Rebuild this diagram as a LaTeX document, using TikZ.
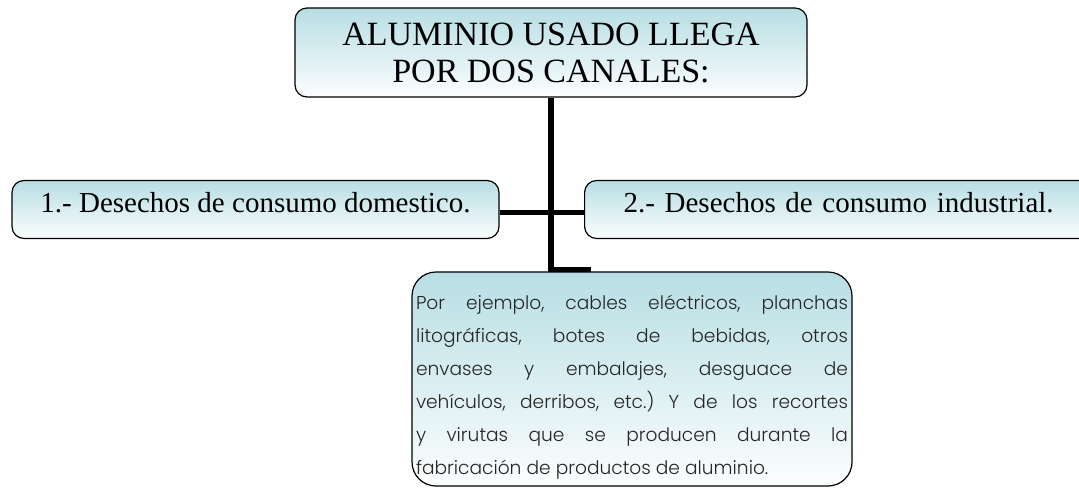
\documentclass[tikz,border=0pt]{standalone}
\usepackage{fontspec}
\setmainfont{Liberation Serif}
\newfontfamily\gothicfont{Poppins}[UprightFont=* Light]
\usetikzlibrary{backgrounds}
\usetikzlibrary{positioning}
\definecolor{boxTeal}{RGB}{183,222,228}
\tikzset{mybox/.style={draw, line width=1.2pt, rounded corners=12pt, top color=boxTeal, bottom color=white!96!boxTeal, inner sep=0pt}}
\tikzset{myboxTitle/.style={mybox, minimum width=512pt, minimum height=89pt, align=center, font=\fontsize{34}{37}\selectfont}}
\tikzset{myboxCanal/.style={mybox, minimum height=58pt, text height=20pt, text depth=13pt, font=\fontsize{29}{32}\selectfont}}
\tikzset{myboxEjemplo/.style={mybox, rounded corners=24pt, text width=432pt, inner xsep=4pt, minimum height=214pt, align=justify, text=black!85, font=\gothicfont\fontsize{18.6}{33}\selectfont\frenchspacing}}
\tikzset{rama/.style={line width=5.5pt}}

\begin{document}
\begin{tikzpicture}[x=1pt,y=-1pt]
\useasboundingbox (0,0) rectangle (1079,489);
\clip (0,0) rectangle (1079,489);
\node[myboxTitle] (titulo) at (551,52.5) {ALUMINIO USADO LLEGA\\POR DOS CANALES:};

\node[myboxCanal, minimum width=487pt] (domestico) at (255.5,209.5) {1.- Desechos de consumo domestico.};
\node[myboxCanal, anchor=west, inner xsep=39pt, text width=470pt, align=left] (industrial) at (584,209.5) {2.- Desechos de consumo industrial.};

\node[myboxEjemplo] (ejemplo) at (632,379) {\rule{0pt}{30pt}Por ejemplo, cables eléctricos, planchas\linebreak litográficas, botes de bebidas, otros\linebreak envases y embalajes, desguace de\linebreak vehículos, derribos, etc.) Y de los recortes\linebreak y virutas que se producen durante la\linebreak fabricación de productos de aluminio.};

\coordinate (codo) at (551,270);
\coordinate (codoFin) at (591,270);

\begin{scope}[on background layer]
\draw[rama] ([yshift=-3pt]domestico.east) -- ([yshift=-3pt]industrial.west);
\draw[rama] (titulo.south -| codo) -- (codo) -- (codoFin);
\end{scope}
\end{tikzpicture}
\end{document}
